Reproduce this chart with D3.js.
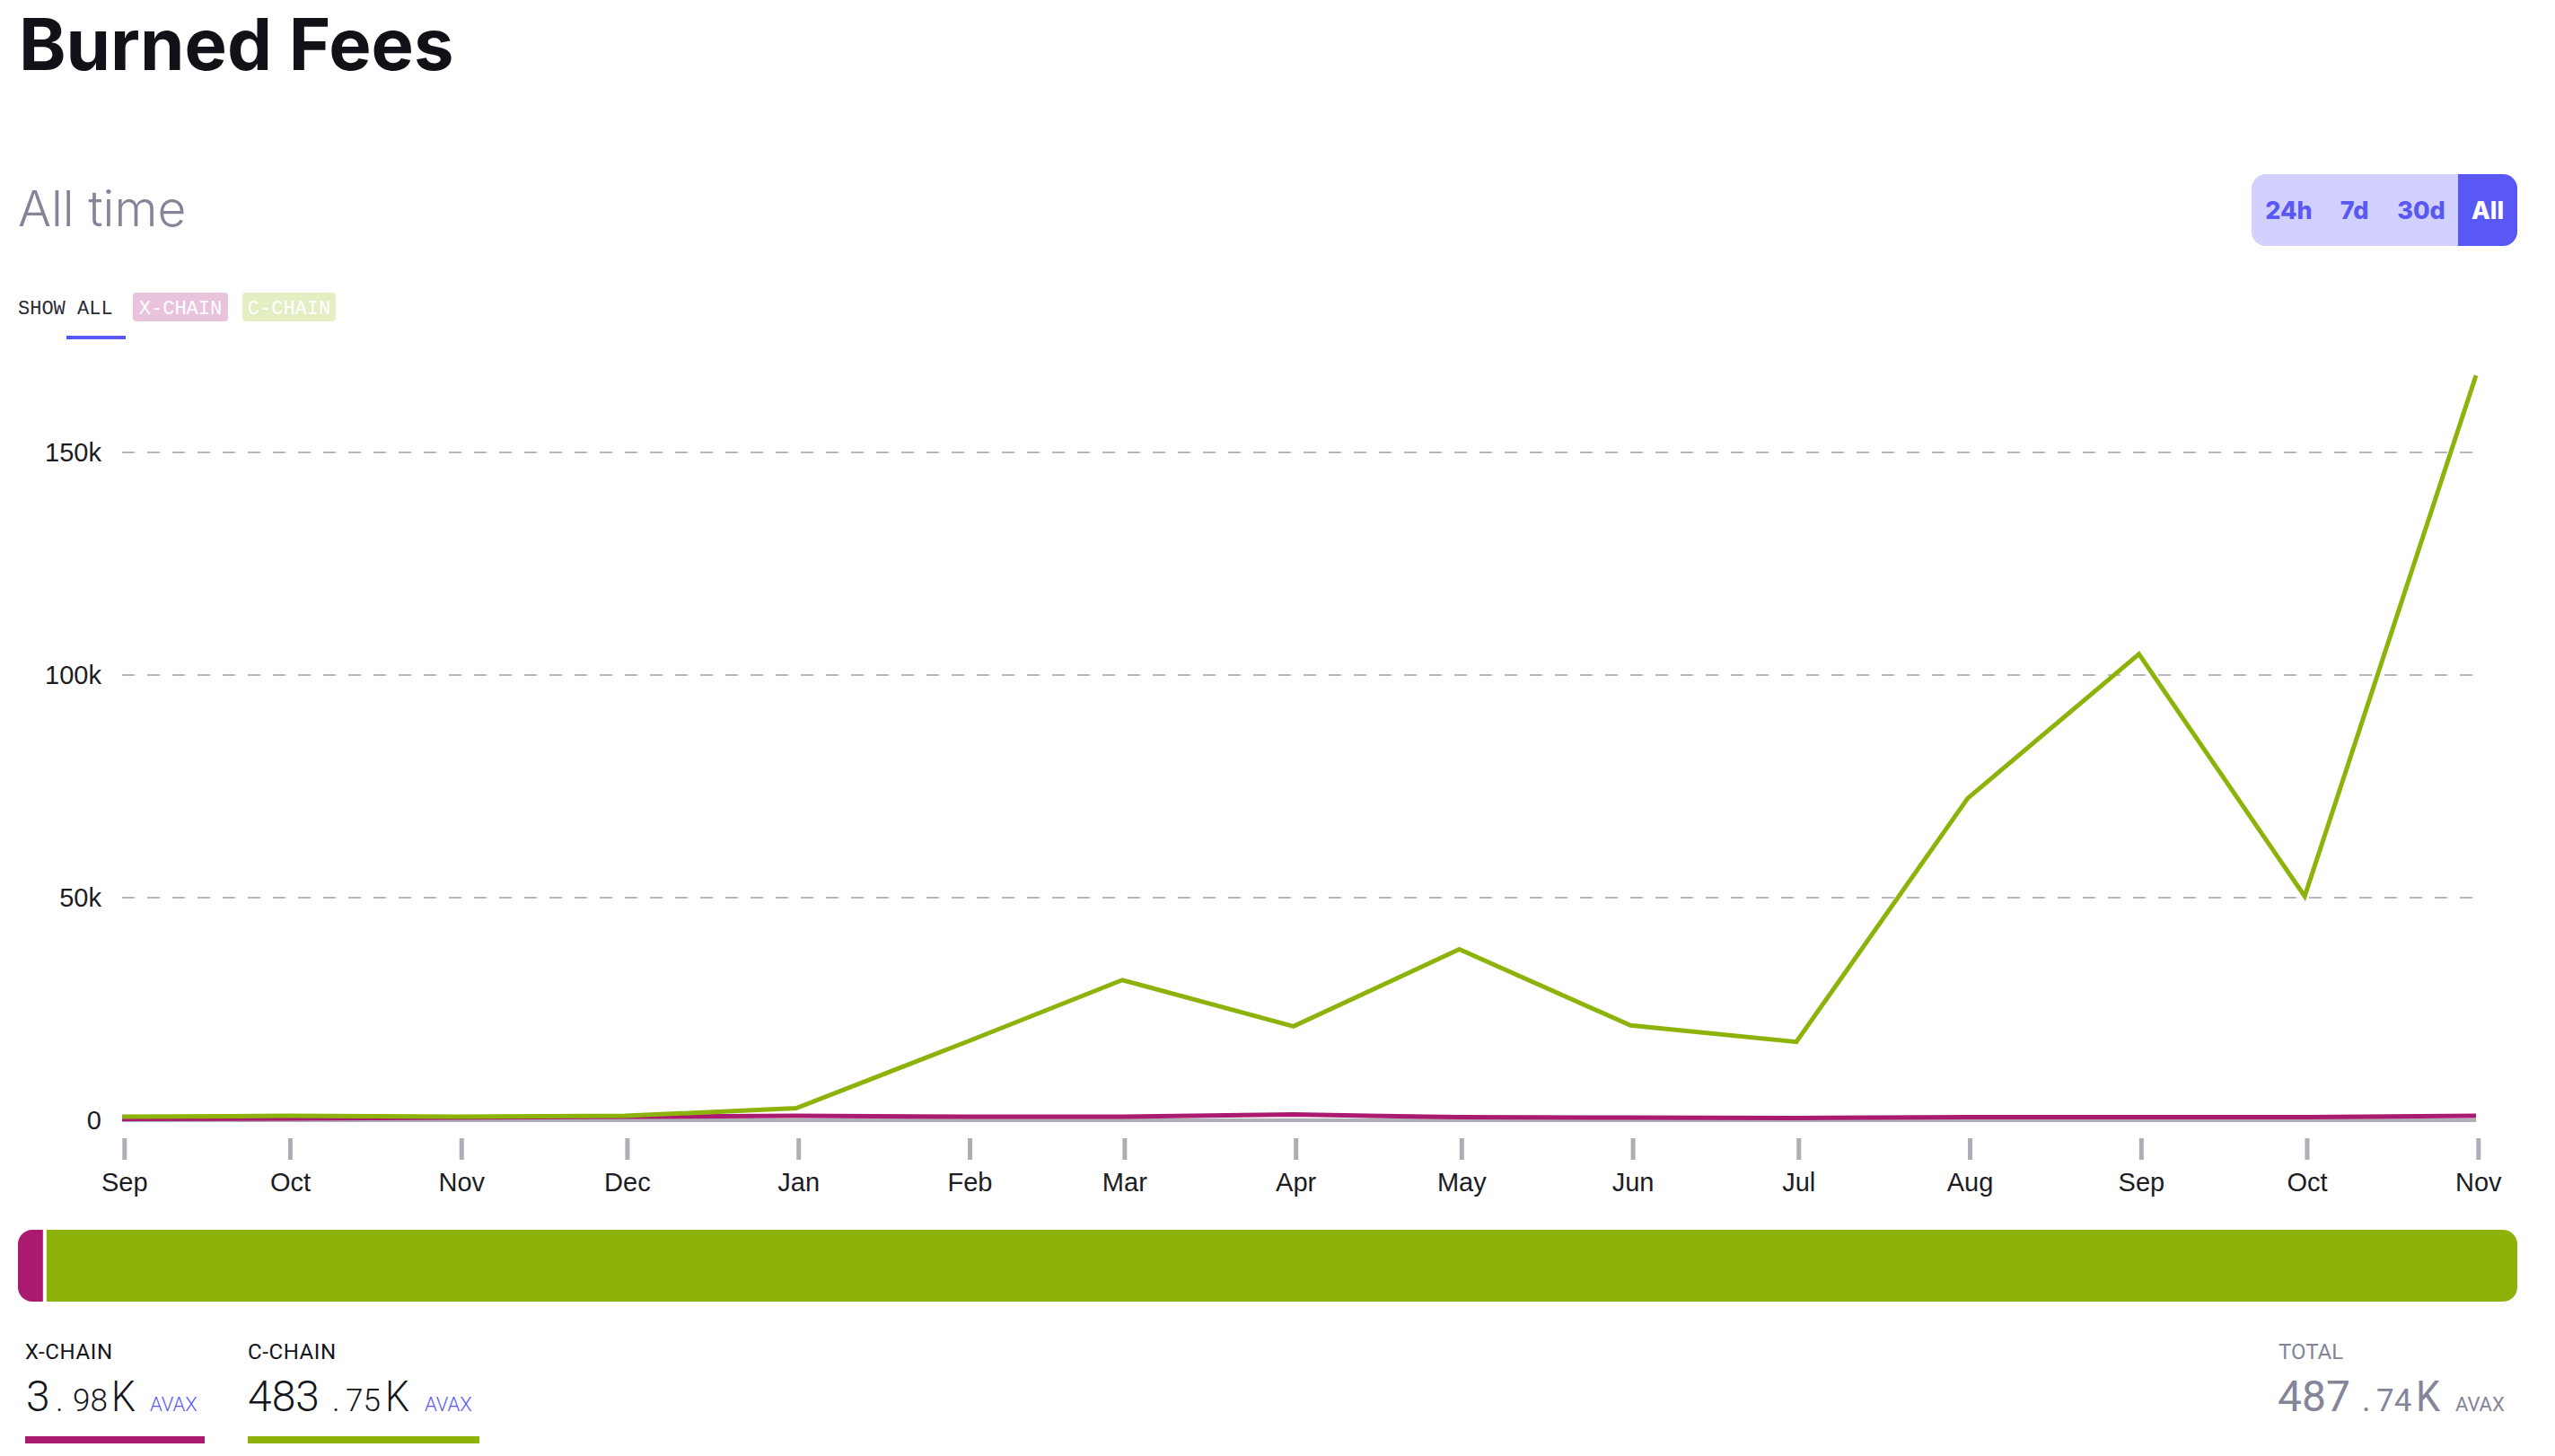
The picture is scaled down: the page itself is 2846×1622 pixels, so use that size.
<!DOCTYPE html>
<html>
<head>
<meta charset="utf-8">
<title>Burned Fees</title>
<script src="https://cdn.jsdelivr.net/npm/d3@7"></script>
<style>
  html, body { margin: 0; padding: 0; background: #fff; }
  svg { display: block; }
  text { font-family: "Liberation Sans", sans-serif; }
  .domain { display: none; }
  .inter { font-family: Inter, sans-serif; }
  .mono { font-family: "Liberation Mono", monospace; }
  .plex { font-family: Roboto, sans-serif; font-weight: 300; }
</style>
</head>
<body>
<svg id="chart" width="2846" height="1622"></svg>
<script>
// chart data
const months = [
  "2020-09-01", "2020-10-01", "2020-11-01", "2020-12-01", "2021-01-01",
  "2021-02-01", "2021-03-01", "2021-04-01", "2021-05-01", "2021-06-01",
  "2021-07-01", "2021-08-01", "2021-09-01", "2021-10-01", "2021-11-01",
];
const cChain = [800, 1000, 800, 1000, 2700, 17700, 31500, 21100, 38400, 21300, 17600, 72300, 104700, 50300, 167300];
const xChain = [300, 400, 600, 800, 1000, 800, 800, 1300, 700, 600, 500, 700, 700, 700, 1000];
const yTicks = [0, 50000, 100000, 150000];
const ranges = ["24h", "7d", "30d", "All"];
const summaryNames = ["X-CHAIN", "C-CHAIN", "TOTAL"];
const summaryInts = ["3", "483", "487"];
const summaryFracs = ["98", "75", "74"];
const summaryUnit = "AVAX";
const barValues = [3.98, 483.75];

const green = "#8db30a";
const magenta = "#ac1a70";
const blue = "#5a58f5";
const gray = "#aeaeb6";
const ink = "#14151b";
const muted = "#858599";

const svg = d3.select("#chart");
const parse = d3.utcParse("%Y-%m-%d");
const dates = months.map(parse);

// scales
const x = d3.scaleUtc().domain([dates[0], dates[dates.length - 1]]).range([136, 2758]);
const y = d3.scaleLinear().domain([0, 150000]).range([1248, 504]);

// header
svg.append("text").attr("class", "inter").attr("x", 21).attr("y", 78)
  .attr("font-size", 79.5).attr("font-weight", 700).attr("fill", "#111218")
  .text("Burned Fees");
svg.append("text").attr("class", "inter").attr("x", 20).attr("y", 252)
  .attr("font-size", 55).attr("font-weight", 300).attr("fill", muted)
  .text("All time");

// range buttons
svg.append("rect").attr("x", 2508).attr("y", 194).attr("width", 296).attr("height", 80)
  .attr("rx", 16).attr("fill", "#d2d0fd");
svg.append("path").attr("fill", blue)
  .attr("d", "M2738,194H2788a16,16 0 0 1 16,16V258a16,16 0 0 1 -16,16H2738Z");
const rangeX = [2549.5, 2622.5, 2697, 2771];
svg.selectAll(".range").data(ranges).join("text")
  .attr("class", "range inter")
  .attr("x", (d, i) => rangeX[i]).attr("y", 244)
  .attr("text-anchor", "middle").attr("font-size", 27).attr("font-weight", 800)
  .attr("fill", (d) => (d === "All" ? "#fff" : blue))
  .text((d) => d);

// legend filters
svg.append("text").attr("class", "mono").attr("x", 20).attr("y", 350)
  .attr("font-size", 22).attr("fill", "#2a2a33").text("SHOW ALL");
svg.append("rect").attr("x", 74).attr("y", 374).attr("width", 66).attr("height", 4).attr("fill", blue);
svg.append("rect").attr("x", 148).attr("y", 326).attr("width", 106).attr("height", 32).attr("rx", 4).attr("fill", "#e9c3dc");
svg.append("rect").attr("x", 270).attr("y", 326).attr("width", 104).attr("height", 32).attr("rx", 4).attr("fill", "#e3eec3");
svg.append("text").attr("class", "mono").attr("x", 201).attr("y", 350).attr("text-anchor", "middle")
  .attr("font-size", 22).attr("fill", "#fff").text(summaryNames[0]);
svg.append("text").attr("class", "mono").attr("x", 322).attr("y", 350).attr("text-anchor", "middle")
  .attr("font-size", 22).attr("fill", "#fff").text(summaryNames[1]);

// y axis and grid
const yAxis = svg.append("g").attr("transform", "translate(136,0)")
  .call(d3.axisLeft(y).tickValues(yTicks).tickSize(0).tickPadding(23)
    .tickFormat((d) => (d === 0 ? "0" : d / 1000 + "k")));
yAxis.selectAll("text").attr("font-size", 29).attr("fill", "#1c1c24");

svg.append("g").selectAll("line").data(yTicks.filter((d) => d > 0)).join("line")
  .attr("x1", 136).attr("x2", 2758)
  .attr("y1", (d) => y(d)).attr("y2", (d) => y(d))
  .attr("stroke", "#b8b8be").attr("stroke-width", 2).attr("stroke-dasharray", "14 14");

// baseline at zero
svg.append("line").attr("x1", 136).attr("x2", 2758)
  .attr("y1", y(0)).attr("y2", y(0))
  .attr("stroke", gray).attr("stroke-width", 4);

// x axis
const xAxis = svg.append("g").attr("transform", "translate(2.3,1268)")
  .call(d3.axisBottom(x).tickValues(dates).tickSize(24).tickPadding(14)
    .tickFormat(d3.utcFormat("%b")));
xAxis.selectAll("line").attr("stroke", gray).attr("stroke-width", 5);
xAxis.selectAll("text").attr("font-size", 29).attr("fill", "#1c1c24");

// lines
const line = d3.line().x((d, i) => x(dates[i])).y((d) => y(d));
svg.append("path").datum(xChain).attr("d", line).attr("fill", "none")
  .attr("stroke", magenta).attr("stroke-width", 5);
svg.append("path").datum(cChain).attr("d", line).attr("fill", "none")
  .attr("stroke", green).attr("stroke-width", 5);

// share bar, x-chain has a 1% minimum width
const barScale = d3.scaleLinear().domain([0, d3.sum(barValues)]).range([0, 2784]);
const xWidth = Math.max(barScale(barValues[0]), 2784 * 0.01);
svg.append("clipPath").attr("id", "barClip").append("rect")
  .attr("x", 20).attr("y", 1370).attr("width", 2784).attr("height", 80).attr("rx", 16);
const bar = svg.append("g").attr("clip-path", "url(#barClip)");
bar.append("rect").attr("x", 20).attr("y", 1370).attr("width", xWidth).attr("height", 80).attr("fill", magenta);
bar.append("rect").attr("x", 20 + xWidth + 4).attr("y", 1370).attr("width", 2784 - xWidth - 4).attr("height", 80).attr("fill", green);

// summary figures
const colX = [
  { name: 28, int: 29, dot: 62, frac: 81, k: 124, unit: 167 },
  { name: 276, int: 276, dot: 370, frac: 385, k: 429, unit: 473 },
  { name: 2538, int: 2537, dot: 2631, frac: 2647, k: 2691, unit: 2735 },
];
summaryNames.forEach((name, i) => {
  const col = colX[i];
  const fill = i === 2 ? muted : ink;
  const weight = i === 2 ? 400 : 300;
  const g = svg.append("g").attr("fill", fill);
  const put = (xPos, yPos, size, str) => g.append("text").attr("class", "plex")
    .attr("x", xPos).attr("y", yPos).attr("font-size", size)
    .style("font-weight", weight).text(str);
  put(col.name, 1514, 24, name).style("font-weight", 400).attr("letter-spacing", i === 2 ? 0 : 0.6);
  put(col.int, 1572, 48, summaryInts[i]);
  put(col.dot, 1572, 36, ".");
  put(col.frac, 1572, 35, summaryFracs[i]);
  put(col.k, 1572, 48, "K").attr("textLength", 27).attr("lengthAdjust", "spacingAndGlyphs");
  put(col.unit, 1572, 22, summaryUnit).attr("fill", i === 2 ? muted : blue);
});
svg.append("rect").attr("x", 28).attr("y", 1600).attr("width", 200).attr("height", 8).attr("fill", magenta);
svg.append("rect").attr("x", 276).attr("y", 1600).attr("width", 258).attr("height", 8).attr("fill", green);
</script>
</body>
</html>
